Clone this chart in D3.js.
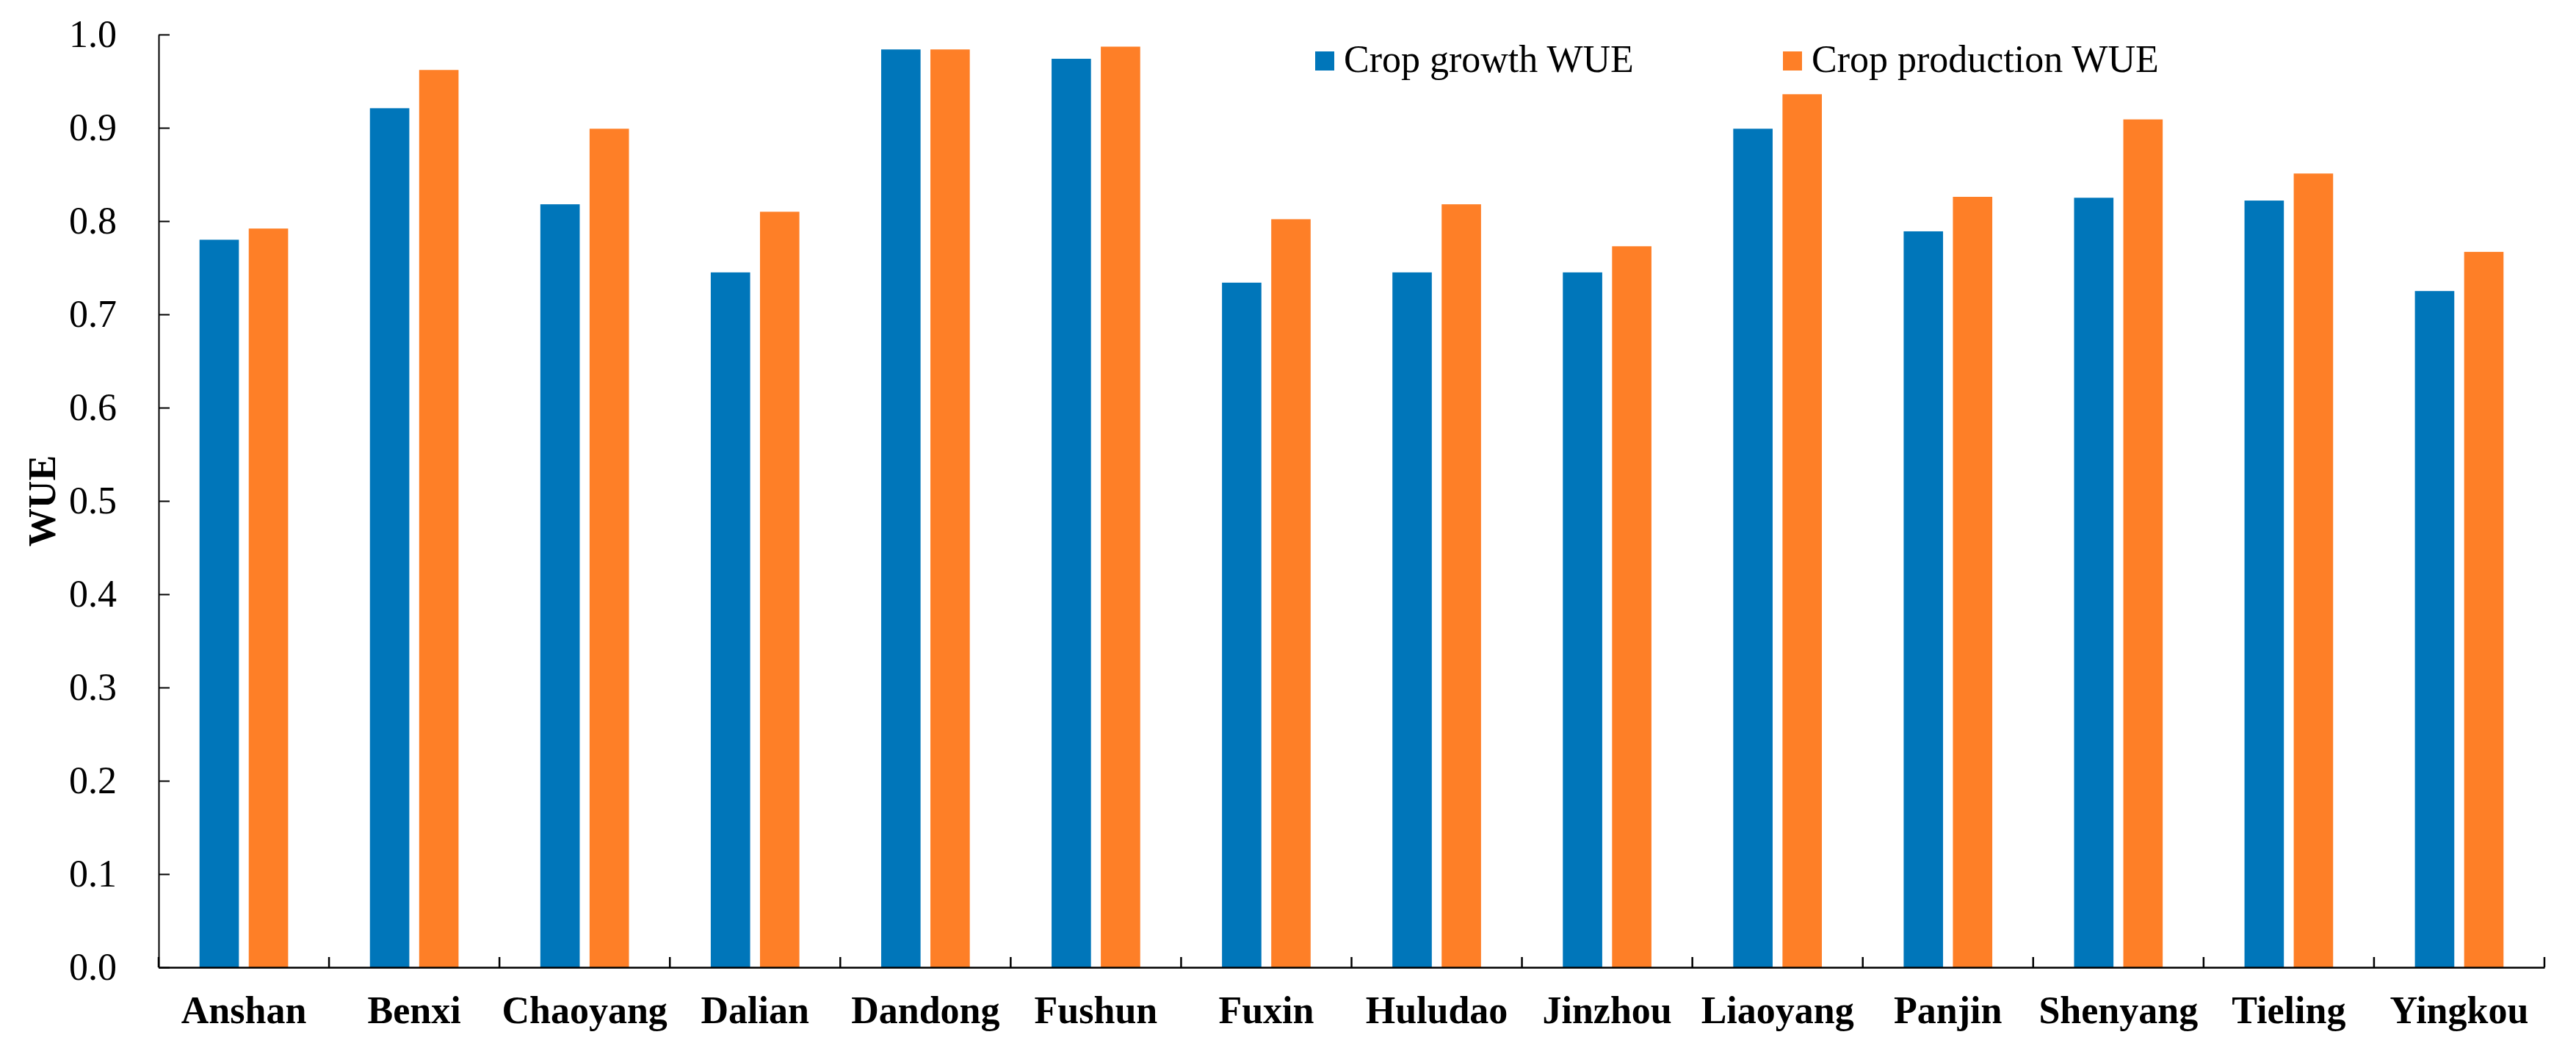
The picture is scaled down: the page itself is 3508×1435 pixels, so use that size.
<!DOCTYPE html>
<html>
<head>
<meta charset="utf-8">
<script src="https://d3js.org/d3.v7.min.js"></script>
<style>
  html, body { margin: 0; padding: 0; background: #fff; }
  svg { display: block; }
  .tick-text { font-family: "Liberation Serif", "Times New Roman", serif; font-size: 52px; fill: #000; }
  .cat-text { font-family: "Liberation Serif", "Times New Roman", serif; font-size: 52px; font-weight: bold; fill: #000; }
  .legend-text { font-family: "Liberation Serif", "Times New Roman", serif; font-size: 52px; fill: #000; }
</style>
</head>
<body>
<svg id="chart"></svg>
<script>
// ── DATA ────────────────────────────────────────────────────────────────
const cities = ['Anshan', 'Benxi', 'Chaoyang', 'Dalian', 'Dandong', 'Fushun', 'Fuxin',
  'Huludao', 'Jinzhou', 'Liaoyang', 'Panjin', 'Shenyang', 'Tieling', 'Yingkou'];
const growthWUE     = [0.780, 0.921, 0.818, 0.745, 0.984, 0.974, 0.734, 0.745, 0.745, 0.899, 0.789, 0.825, 0.822, 0.725];
const productionWUE = [0.792, 0.962, 0.899, 0.810, 0.984, 0.987, 0.802, 0.818, 0.773, 0.936, 0.826, 0.909, 0.851, 0.767];
const seriesNames = ['Crop growth WUE', 'Crop production WUE'];
const yTicks = [0, 0.1, 0.2, 0.3, 0.4, 0.5, 0.6, 0.7, 0.8, 0.9, 1.0];

const colors = { 'Crop growth WUE': '#0076BA', 'Crop production WUE': '#FE7F27' };

// ── SETUP ───────────────────────────────────────────────────────────────
const W = 3508, H = 1435;
const margin = { top: 47, right: 43, bottom: 118, left: 216 };
const iW = W - margin.left - margin.right;
const iH = H - margin.top - margin.bottom;

const svg = d3.select('#chart').attr('width', W).attr('height', H)
  .attr('viewBox', `0 0 ${W} ${H}`);
svg.append('rect').attr('width', W).attr('height', H).attr('fill', '#fff');

const g = svg.append('g').attr('transform', `translate(${margin.left},${margin.top})`);

const x0 = d3.scaleBand().domain(cities).range([0, iW]).padding(0);
const bw = x0.bandwidth();
const x1 = d3.scaleBand().domain(seriesNames).range([bw * 0.24, bw * 0.76]).paddingInner(0.2);
const y = d3.scaleLinear().domain([0, 1]).range([iH, 0]);

const rows = cities.map((c, i) => ({
  city: c,
  vals: [
    { key: seriesNames[0], v: growthWUE[i] },
    { key: seriesNames[1], v: productionWUE[i] },
  ]
}));

// bars
g.append('g').selectAll('g')
  .data(rows)
  .join('g')
  .attr('transform', d => `translate(${x0(d.city)},0)`)
  .selectAll('rect')
  .data(d => d.vals)
  .join('rect')
  .attr('x', d => x1(d.key))
  .attr('width', x1.bandwidth())
  .attr('y', d => y(d.v))
  .attr('height', d => y(0) - y(d.v))
  .attr('fill', d => colors[d.key]);

// y axis
const yAxis = g.append('g')
  .call(d3.axisLeft(y).tickValues(yTicks).tickFormat(d3.format('.1f'))
    .tickSizeInner(-15).tickSizeOuter(0).tickPadding(57));
yAxis.select('.domain').attr('stroke', '#000').attr('stroke-width', 2);
yAxis.selectAll('.tick line').attr('stroke', '#000').attr('stroke-width', 2);
yAxis.selectAll('text').attr('class', 'tick-text').attr('font-size', null).attr('font-family', null);

// x axis: labels at band centres
const xAxis = g.append('g')
  .attr('transform', `translate(0,${iH})`)
  .call(d3.axisBottom(x0).tickSize(0).tickPadding(39));
xAxis.select('.domain').attr('stroke', '#000').attr('stroke-width', 2.5);
xAxis.selectAll('text').attr('class', 'cat-text').attr('font-size', null).attr('font-family', null);

// x axis boundary ticks (pointing up)
const bounds = cities.map(c => x0(c)).concat([x0(cities[cities.length - 1]) + bw]);
g.append('g').selectAll('line')
  .data(bounds)
  .join('line')
  .attr('x1', d => d).attr('x2', d => d)
  .attr('y1', iH).attr('y2', iH - 14)
  .attr('stroke', '#000').attr('stroke-width', 2.5);

// y axis title
g.append('text')
  .attr('class', 'cat-text')
  .attr('transform', `translate(${75 - margin.left},${iH / 2}) rotate(-90)`)
  .attr('text-anchor', 'middle')
  .text('WUE');

// legend
const legendX = [1791, 2428];
const leg = svg.append('g');
seriesNames.forEach((name, i) => {
  leg.append('rect')
    .attr('x', legendX[i]).attr('y', 70)
    .attr('width', 26).attr('height', 26)
    .attr('fill', colors[name]);
  leg.append('text')
    .attr('class', 'legend-text')
    .attr('x', legendX[i] + 39).attr('y', 98)
    .text(name);
});
</script>
</body>
</html>
